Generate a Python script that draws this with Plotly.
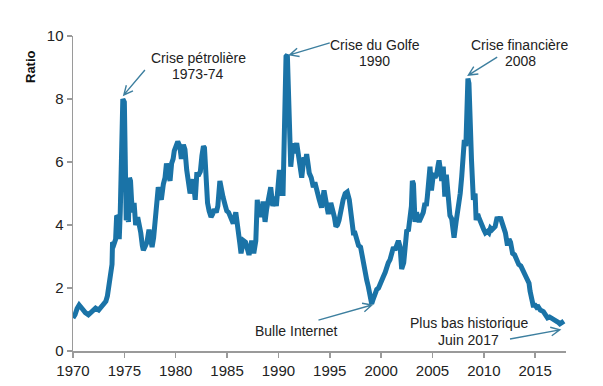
import math
import plotly.graph_objects as go

# ---- data ----
years = [
    1970.00, 1970.2, 1970.4, 1970.6, 1970.8, 1971.0, 1971.2, 1971.5, 1971.8, 1972.0,
    1972.2, 1972.5, 1972.8, 1973.0, 1973.2, 1973.35, 1973.45, 1973.55, 1973.7, 1973.8,
    1973.85, 1974.0, 1974.15, 1974.25, 1974.4, 1974.5, 1974.6, 1974.7, 1974.78, 1974.85,
    1975.0, 1975.05, 1975.12, 1975.18, 1975.3, 1975.4, 1975.5, 1975.6, 1975.7, 1975.8,
    1975.95, 1976.1, 1976.3, 1976.5, 1976.6, 1976.75, 1976.85, 1977.0, 1977.2, 1977.4,
    1977.55, 1977.7, 1977.85, 1978.0, 1978.15, 1978.3, 1978.45, 1978.6, 1978.8, 1978.96,
    1979.1, 1979.3, 1979.45, 1979.6, 1979.75, 1979.86, 1980.0, 1980.2, 1980.4, 1980.55,
    1980.75, 1980.9, 1981.07, 1981.25, 1981.4, 1981.55, 1981.7, 1981.9, 1982.05, 1982.25,
    1982.4, 1982.55, 1982.7, 1982.8, 1982.92, 1983.1, 1983.25, 1983.44, 1983.6, 1983.75,
    1983.95, 1984.1, 1984.3, 1984.45, 1984.6, 1984.8, 1984.97, 1985.15, 1985.3, 1985.45,
    1985.6, 1985.85, 1986.0, 1986.1, 1986.25, 1986.36, 1986.5, 1986.6, 1986.8, 1986.93,
    1987.14, 1987.3, 1987.4, 1987.6, 1987.8, 1987.94, 1988.05, 1988.2, 1988.35, 1988.5,
    1988.7, 1988.85, 1989.0, 1989.15, 1989.25, 1989.45, 1989.67, 1989.8, 1989.95, 1990.1,
    1990.2, 1990.3, 1990.45, 1990.55, 1990.65, 1990.74, 1990.87, 1990.97, 1991.1, 1991.2,
    1991.3, 1991.4, 1991.5, 1991.65, 1991.78, 1991.9, 1992.05, 1992.15, 1992.27, 1992.4,
    1992.5, 1992.65, 1992.75, 1992.9, 1993.0, 1993.2, 1993.4, 1993.55, 1993.7, 1993.85,
    1993.98, 1994.2, 1994.44, 1994.6, 1994.75, 1994.86, 1995.1, 1995.3, 1995.45, 1995.6,
    1995.75, 1995.9, 1996.1, 1996.3, 1996.5, 1996.7, 1996.9, 1997.1, 1997.3, 1997.45,
    1997.6, 1997.8, 1998.0, 1998.2, 1998.35, 1998.5, 1998.6, 1998.75, 1998.92, 1999.08,
    1999.2, 1999.3, 1999.45, 1999.57, 1999.75, 1999.9, 2000.05, 2000.2, 2000.4, 2000.55,
    2000.7, 2000.87, 2001.0, 2001.2, 2001.35, 2001.5, 2001.68, 2001.85, 2002.0, 2002.2,
    2002.35, 2002.5, 2002.65, 2002.8, 2002.95, 2003.04, 2003.15, 2003.3, 2003.45, 2003.6,
    2003.7, 2003.9, 2004.1, 2004.27, 2004.4, 2004.5, 2004.65, 2004.76, 2004.9, 2005.1,
    2005.25, 2005.4, 2005.55, 2005.64, 2005.75, 2005.9, 2006.05, 2006.2, 2006.35, 2006.5,
    2006.7, 2006.87, 2007.0, 2007.1, 2007.3, 2007.52, 2007.7, 2007.85, 2008.0, 2008.1,
    2008.25, 2008.35, 2008.45, 2008.55, 2008.66, 2008.8, 2008.98, 2009.15, 2009.25, 2009.4,
    2009.5, 2009.65, 2009.8, 2010.0, 2010.15, 2010.35, 2010.5, 2010.65, 2010.8, 2011.0,
    2011.1, 2011.3, 2011.45, 2011.6, 2011.75, 2011.9, 2012.1, 2012.3, 2012.45, 2012.6,
    2012.8, 2013.0, 2013.2, 2013.4, 2013.6, 2013.8, 2014.0, 2014.2, 2014.4, 2014.5,
    2014.65, 2014.8, 2015.0, 2015.15, 2015.3, 2015.5, 2015.8, 2016.0, 2016.2, 2016.4,
    2016.6, 2016.8, 2017.0, 2017.2, 2017.4, 2017.6, 2017.8,
]
ratio = [
    1.05, 1.15, 1.35, 1.46, 1.38, 1.28, 1.22, 1.15, 1.22, 1.30,
    1.36, 1.30, 1.42, 1.48, 1.58, 1.75, 1.95, 2.40, 2.70, 2.75,
    3.45, 3.40, 3.55, 4.30, 4.25, 3.55, 4.40, 5.95, 7.95, 8.00,
    7.90, 6.00, 5.20, 4.15, 4.30, 4.10, 5.50, 5.40, 4.80, 4.40,
    4.70, 4.00, 4.25, 4.00, 3.75, 3.35, 3.20, 3.30, 3.45, 3.85,
    3.60, 3.30, 3.60, 4.25, 4.60, 5.20, 5.00, 4.80, 5.30, 5.50,
    5.95, 5.60, 5.40, 5.95, 6.10, 6.35, 6.50, 6.65, 6.50, 6.10,
    6.55, 6.40, 5.75, 5.30, 5.00, 5.20, 5.45, 4.80, 5.60, 5.60,
    5.70, 6.20, 6.50, 6.45, 5.35, 4.70, 4.45, 4.25, 4.35, 4.50,
    4.40, 4.60, 5.40, 5.00, 4.90, 4.65, 4.45, 4.40, 4.25, 4.20,
    4.05, 4.40, 4.10, 3.85, 3.40, 3.10, 3.35, 3.50, 3.45, 3.30,
    3.05, 3.30, 3.50, 3.10, 3.50, 4.80, 4.40, 4.60, 4.25, 4.75,
    4.10, 4.50, 4.80, 4.90, 5.20, 4.60, 4.90, 4.60, 5.30, 5.75,
    5.40, 5.00, 5.00, 6.90, 8.20, 9.35, 9.40, 8.50, 7.20, 5.85,
    6.20, 6.60, 6.30, 6.40, 6.60, 6.30, 6.05, 5.80, 5.50, 5.90,
    6.15, 6.05, 6.25, 5.90, 5.65, 5.50, 5.20, 5.35, 5.20, 4.95,
    4.80, 4.55, 5.10, 4.80, 4.55, 4.35, 4.70, 4.50, 4.25, 3.95,
    4.00, 4.15, 4.60, 4.80, 5.00, 5.05, 4.80, 4.35, 3.75, 3.75,
    3.50, 3.35, 3.30, 2.90, 2.55, 2.35, 2.25, 2.05, 1.70, 1.50,
    1.62, 1.72, 1.85, 1.95, 2.00, 2.15, 2.25, 2.35, 2.50, 2.70,
    2.80, 2.90, 3.05, 3.30, 3.20, 3.40, 3.50, 3.30, 2.60, 2.80,
    3.30, 3.85, 3.80, 4.10, 4.60, 5.40, 5.30, 4.10, 4.40, 4.20,
    4.10, 4.25, 4.40, 4.70, 4.60, 4.90, 5.30, 5.85, 5.10, 5.65,
    5.50, 5.60, 5.90, 6.05, 5.80, 5.40, 5.85, 4.90, 5.60, 4.90,
    4.30, 4.20, 3.75, 3.60, 4.10, 4.50, 5.00, 5.55, 6.20, 6.70,
    6.50, 8.00, 8.65, 8.50, 6.80, 6.05, 4.80, 5.00, 4.15, 4.35,
    4.25, 4.10, 3.95, 3.85, 3.75, 3.80, 3.75, 3.90, 3.85, 3.95,
    3.95, 4.25, 4.15, 4.25, 4.10, 3.95, 3.75, 3.35, 3.55, 3.45,
    3.10, 3.05, 2.90, 2.75, 2.70, 2.55, 2.45, 2.25, 2.15, 1.90,
    1.70, 1.45, 1.45, 1.38, 1.40, 1.30, 1.25, 1.10, 1.05, 1.08,
    1.05, 1.00, 0.98, 0.92, 0.86, 0.90, 0.95,
]
x_ticks = [1970, 1975, 1980, 1985, 1990, 1995, 2000, 2005, 2010, 2015]
y_ticks = [0, 2, 4, 6, 8, 10]

# annotations: (text, x, y)
labels = [
    ("Crise pétrolière", 1982.2, 9.30),
    ("1973-74", 1982.2, 8.79),
    ("Crise du Golfe", 1999.4, 9.71),
    ("1990", 1999.4, 9.21),
    ("Crise financière", 2013.5, 9.71),
    ("2008", 2013.6, 9.21),
    ("Bulle Internet", 1991.8, 0.64),
    ("Plus bas historique", 2008.6, 0.89),
    ("Juin 2017", 2008.5, 0.35),
]
# arrows: (tail_x, tail_y, tip_x, tip_y)
arrows = [
    (1977.0, 8.92, 1974.95, 8.13),
    (1995.0, 9.78, 1991.1, 9.40),
    (2011.3, 9.33, 2008.5, 8.76),
    (1993.9, 0.98, 1999.1, 1.46),
    (2012.55, 0.38, 2017.4, 0.67),
]

# ---- layout geometry ----
W, H = 603, 386
ML, MR, MT, MB = 73, 37, 36, 35
XR = [1970, 2018]
YR = [0, 10]
pw, ph = W - ML - MR, H - MT - MB

def to_px(x, y):
    return ((x - XR[0]) / (XR[1] - XR[0]) * pw, (y - YR[0]) / (YR[1] - YR[0]) * ph)

def to_data(px, py):
    return (XR[0] + px / pw * (XR[1] - XR[0]), YR[0] + py / ph * (YR[1] - YR[0]))

fig = go.Figure()
fig.add_trace(go.Scatter(
    x=years, y=ratio, mode="lines",
    line=dict(color="#1a73a7", width=5),
    hoverinfo="skip", showlegend=False,
))

FONT = "Liberation Sans, Arial, sans-serif"
for text, x, y in labels:
    fig.add_annotation(x=x, y=y, text=text, showarrow=False,
                       font=dict(family=FONT, size=14, color="#222222"),
                       xanchor="center", yanchor="middle")

acol = "#3d7f9f"
for tx, ty, hx, hy in arrows:
    tpx, tpy = to_px(tx, ty)
    hpx, hpy = to_px(hx, hy)
    ang = math.atan2(tpy - hpy, tpx - hpx)
    L, spread = 10, 0.45
    p1 = to_data(hpx + L * math.cos(ang + spread), hpy + L * math.sin(ang + spread))
    p2 = to_data(hpx + L * math.cos(ang - spread), hpy + L * math.sin(ang - spread))
    path = (f"M {tx},{ty} L {hx},{hy} "
            f"M {p1[0]},{p1[1]} L {hx},{hy} L {p2[0]},{p2[1]}")
    fig.add_shape(type="path", path=path, xref="x", yref="y",
                  line=dict(color=acol, width=1.4))

fig.add_annotation(xref="paper", yref="paper", x=(30 - ML) / pw, y=(H - MB - 67) / ph,
                   text="<b>Ratio</b>", textangle=-90, showarrow=False,
                   font=dict(family=FONT, size=13, color="#111111"),
                   xanchor="center", yanchor="middle")

axis_common = dict(
    showgrid=False, zeroline=False, showline=True, linecolor="#9a9a9a", linewidth=1.5,
    ticks="outside", ticklen=5, tickcolor="#9a9a9a", tickwidth=1.5, automargin=False,
    tickfont=dict(family=FONT, size=15, color="#222222"),
)
fig.update_xaxes(range=XR, tickvals=x_ticks, ticktext=[str(v) for v in x_ticks], **axis_common)
fig.update_yaxes(range=YR, tickvals=y_ticks, ticktext=[str(v) for v in y_ticks], **axis_common)

fig.update_layout(
    width=W, height=H, margin=dict(l=ML, r=MR, t=MT, b=MB, pad=0, autoexpand=False),
    paper_bgcolor="white", plot_bgcolor="white", showlegend=False,
)
fig.write_html("out.html", config={"displayModeBar": False, "staticPlot": True},
               post_script="document.body.style.margin='0';document.body.style.overflow='hidden';")
